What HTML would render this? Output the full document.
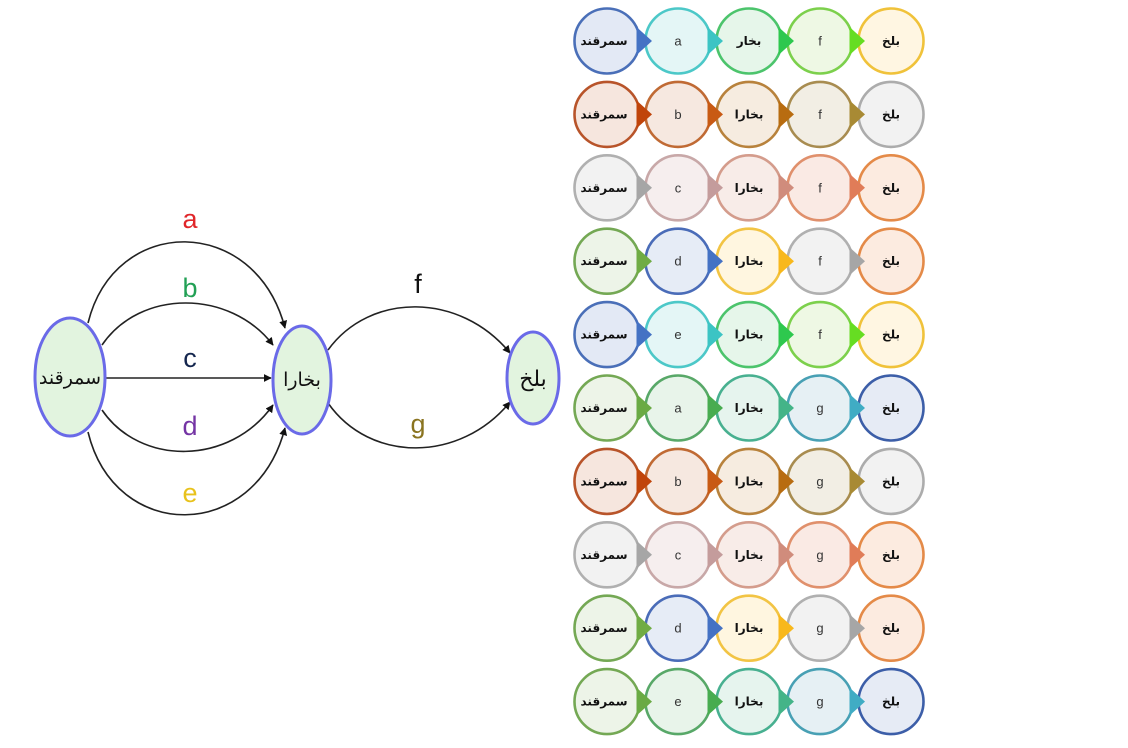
<!DOCTYPE html>
<html><head><meta charset="utf-8"><style>
html,body{margin:0;padding:0;background:#fff;}
svg{display:block;}
.ar{font-family:"DejaVu Sans",sans-serif;}
.lt{font-family:"Liberation Sans",sans-serif;}
</style></head><body>
<svg width="1128" height="748" viewBox="0 0 1128 748" xmlns="http://www.w3.org/2000/svg">
<defs>
<marker id="ah" viewBox="0 0 10 10" refX="9" refY="5" markerWidth="8" markerHeight="8" markerUnits="userSpaceOnUse" orient="auto">
<path d="M0,0 L10,5 L0,10 z" fill="#111"/>
</marker>
</defs>
<rect width="1128" height="748" fill="#fff"/>

<!-- Left graph edges -->
<g fill="none" stroke="#222" stroke-width="1.6" marker-end="url(#ah)">
<path d="M88,323 C115,214 255,214 285,328"/>
<path d="M102,345 C140,289 230,289 273,345"/>
<path d="M106,378 L271,378"/>
<path d="M102,410 C140,466 230,466 273,405"/>
<path d="M88,432 C115,543 255,543 285,428"/>
<path d="M328,350 C370,292 460,292 510,353"/>
<path d="M328,403 C370,463 460,463 510,402"/>
</g>

<!-- Nodes -->
<g stroke="#6a6ae8" stroke-width="3" fill="#e2f4df">
<ellipse cx="70" cy="377" rx="35" ry="59"/>
<ellipse cx="302" cy="380" rx="29" ry="54"/>
<ellipse cx="533" cy="378" rx="26" ry="46"/>
</g>
<g class="ar" fill="#111" text-anchor="middle">
<text x="70" y="384" font-size="19">سمرقند</text>
<text x="302" y="386" font-size="19">بخارا</text>
<text x="533" y="386" font-size="22">بلخ</text>
</g>

<!-- Edge labels -->
<g class="lt" font-size="27" text-anchor="middle">
<text x="190" y="228" fill="#e0262a">a</text>
<text x="190" y="297" fill="#22a055">b</text>
<text x="190" y="367" fill="#14264e">c</text>
<text x="190" y="435" fill="#7434a4">d</text>
<text x="190" y="502" fill="#e8c21c">e</text>
<text x="418" y="293" fill="#111">f</text>
<text x="418" y="433" fill="#8a7420">g</text>
</g>

<!-- Right grid -->
<g id="grid"></g>
</svg>
<script>
(function(){
var P1=[["#4a6fb8","#4472c4","#e3e9f5"],["#4cc8c8","#3cc4c4","#e4f6f6"],["#4cc46c","#2ec84e","#e6f6ea"],["#7cd04c","#66dd22","#eef8e4"],["#f0c23a","","#fff6e2"]];
var P2=[["#b8542a","#c0440a","#f6e6de"],["#c06a34","#c85a14","#f6e8e0"],["#b8823c","#b86c10","#f6ece0"],["#a88c50","#a88a34","#f2eee4"],["#acacac","","#f2f2f2"]];
var P3=[["#b0b0b0","#a6a6a6","#f2f2f2"],["#c8a8a8","#c49c9c","#f6eeee"],["#d49c8c","#d08c7c","#f8ece8"],["#e0906c","#e07c58","#faeae4"],["#e48a48","","#fcebe0"]];
var P4=[["#74a854","#70ac44","#edf4e8"],["#4a6cb8","#4472c4","#e6ecf6"],["#f2c444","#f8b81c","#fff6e0"],["#b0b0b0","#a6a6a6","#f2f2f2"],["#e48a48","","#fcebe0"]];
var P6=[["#74a854","#6aaa44","#edf4e8"],["#58a868","#48ac50","#e8f4ea"],["#48b090","#44b488","#e6f4ee"],["#48a0b4","#40acc4","#e6f0f4"],["#3c5ea8","","#e6ebf5"]];
var pal=[P1,P2,P3,P4,P1,P6,P2,P3,P4,P6];
var letters=["a","b","c","d","e","a","b","c","d","e"];
var svgns="http://www.w3.org/2000/svg";
var g=document.getElementById("grid");
var xs=[607,678,749,820,891];
function el(n,a){var e=document.createElementNS(svgns,n);for(var k in a)e.setAttribute(k,a[k]);return e;}
for(var r=0;r<10;r++){
 var cy=41+73.4*r;
 var p=pal[r];
 var texts=["سمرقند",letters[r],r==0?"بخار":"بخارا",r<5?"f":"g","بلخ"];
 for(var i=0;i<5;i++){
  g.appendChild(el("circle",{cx:xs[i],cy:cy,r:32.5,fill:p[i][2],stroke:p[i][0],"stroke-width":2.6}));
 }
 for(var i=0;i<4;i++){
  var cx=xs[i];
  g.appendChild(el("path",{d:"M"+(cx+29.5)+","+(cy-14)+" L"+(cx+45)+","+cy+" L"+(cx+29.5)+","+(cy+14)+" Z",fill:p[i][1]}));
 }
 for(var i=0;i<5;i++){
  var t;
  if(i==1||i==3){
   t=el("text",{x:xs[i],y:cy+4.5,"text-anchor":"middle","font-size":"13",fill:"#333","class":"lt"});
  } else {
   t=el("text",{x:xs[i]-(i==0?3:0),y:cy+4,"text-anchor":"middle","font-size":"12","font-weight":"bold",fill:"#111","class":"ar"});
  }
  t.textContent=texts[i];
  g.appendChild(t);
 }
}
})();
</script>
</body></html>
